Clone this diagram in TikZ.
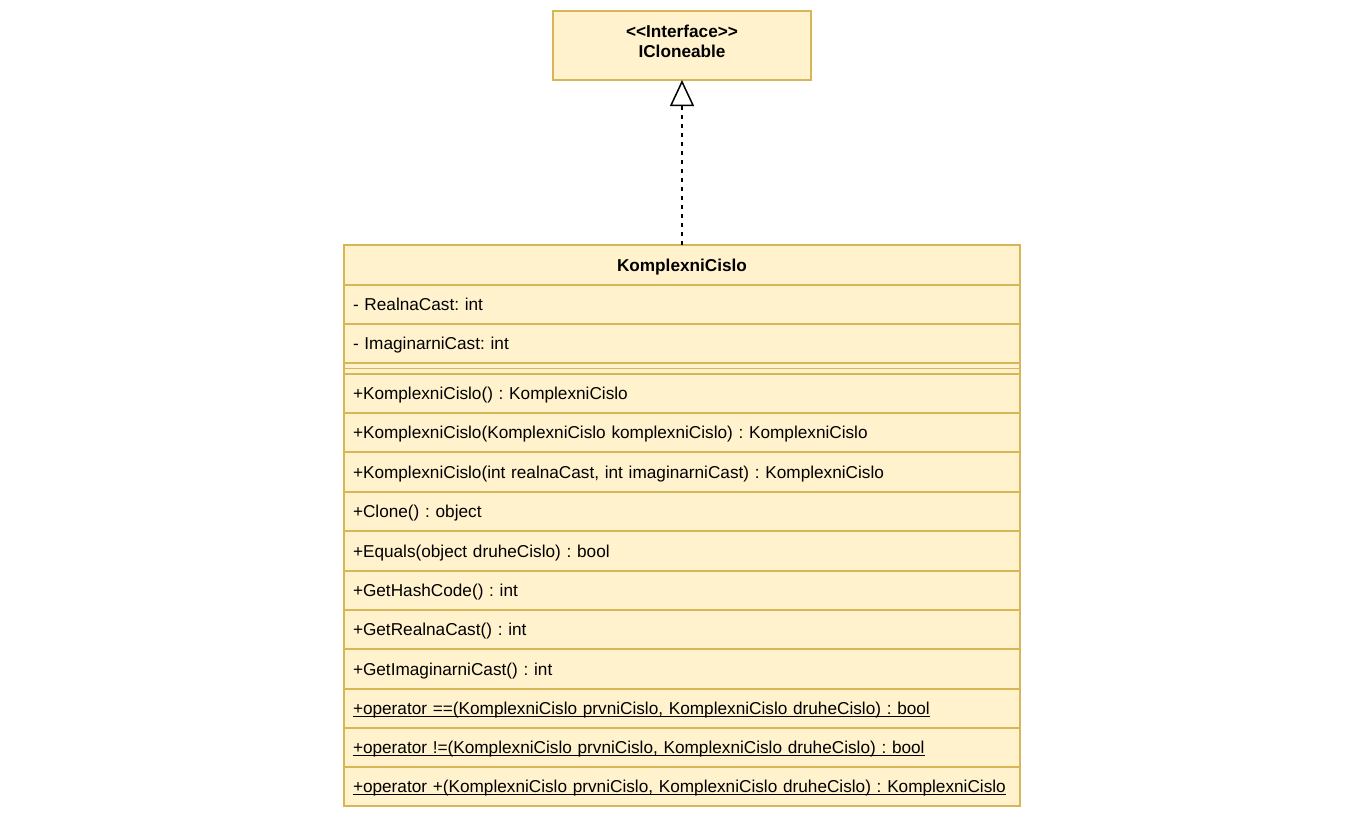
\documentclass[tikz,border=0pt]{standalone}
\usepackage{fontspec}
\setmainfont{Liberation Sans}
\usetikzlibrary{arrows.meta}
\definecolor{umlfill}{HTML}{FFF2CC}
\definecolor{umlline}{HTML}{D6B656}
\newcommand\myul[1]{\setbox0\hbox{#1}\rlap{\rule[-2.4pt]{\wd0}{1pt}}\box0}
\frenchspacing
\begin{document}
\begin{tikzpicture}[x=1pt,y=-1pt,
  every node/.style={font=\fontsize{17.2}{20}\selectfont, outer sep=0pt},
  umlbox/.style={draw=umlline, fill=umlfill, line width=1.5pt},
  row/.style={umlbox, anchor=north west, minimum width=676pt, minimum height=#1,
    text width=658pt, align=left, inner xsep=9pt, inner ysep=0pt,
    text height=13pt, text depth=1pt},
  row/.default=39pt,
  sepbox/.style={umlbox, anchor=north west, minimum width=676pt, minimum height=11pt, inner sep=0pt},
  realize/.style={line width=1.5pt, dash pattern=on 4.5pt off 4.5pt,
    -{Triangle[open, length=26pt, width=24pt, fill=white]}}
]
\useasboundingbox (0,0) rectangle (1368,823);
\node[umlbox, minimum width=258pt, minimum height=69pt, inner sep=0pt] (iface) at (682,45.5) {};
\node[align=center, inner sep=0pt] (iftext) at (682,41.7)
  {\textbf{{<}{<}Interface{>}{>}}\\\textbf{ICloneable}};
\node[umlbox, anchor=north west, minimum width=676pt, minimum height=40pt, inner sep=0pt,
  text height=13pt, text depth=1pt] (cls) at (344,245)
  {\textbf{KomplexniCislo}};
\node[row] (a1) at (cls.south west) {- RealnaCast: int};
\node[row] (a2) at (a1.south west) {- ImaginarniCast: int};
\node[sepbox] (sep) at (a2.south west) {};
\draw[umlline, line width=1.5pt] (sep.west) -- (sep.east);
\node[row] (m1) at (sep.south west) {+KomplexniCislo() : KomplexniCislo};
\node[row] (m2) at (m1.south west) {+KomplexniCislo(KomplexniCislo komplexniCislo) : KomplexniCislo};
\node[row=40pt] (m3) at (m2.south west) {+KomplexniCislo(int realnaCast, int imaginarniCast) : KomplexniCislo};
\node[row] (m4) at (m3.south west) {+Clone() : object};
\node[row=40pt] (m5) at (m4.south west) {+Equals(object druheCislo) : bool};
\node[row] (m6) at (m5.south west) {+GetHashCode() : int};
\node[row] (m7) at (m6.south west) {+GetRealnaCast() : int};
\node[row=40pt] (m8) at (m7.south west) {+GetImaginarniCast() : int};
\node[row] (m9) at (m8.south west) {\myul{+operator ==(KomplexniCislo prvniCislo, KomplexniCislo druheCislo) : bool}};
\node[row] (m10) at (m9.south west) {\myul{+operator !=(KomplexniCislo prvniCislo, KomplexniCislo druheCislo) : bool}};
\node[row] (m11) at (m10.south west) {\myul{+operator +(KomplexniCislo prvniCislo, KomplexniCislo druheCislo) : KomplexniCislo}};
\draw[realize] (cls.north) -- (iface.south);
\end{tikzpicture}
\end{document}
